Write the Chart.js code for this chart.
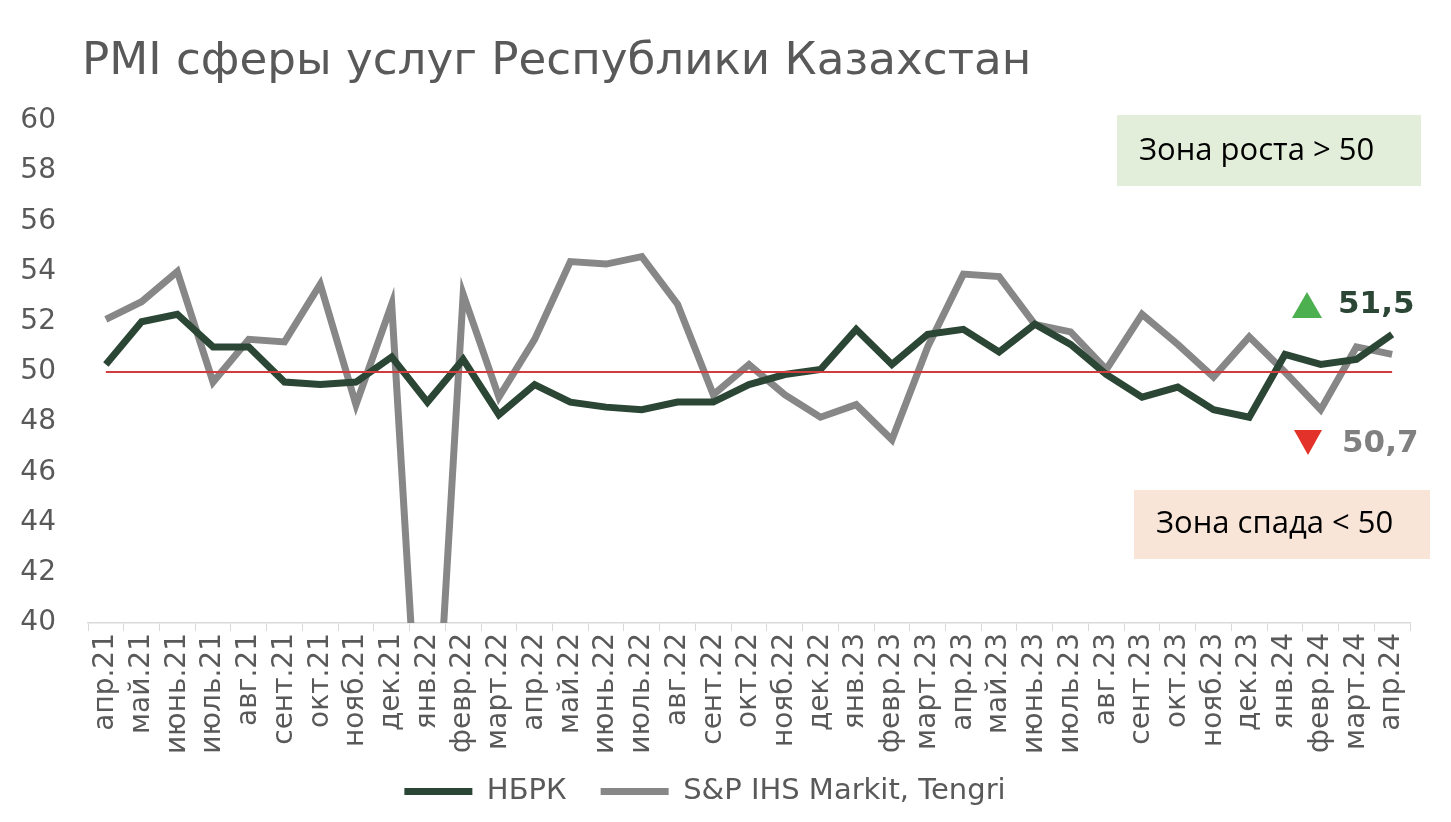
<!DOCTYPE html>
<html>
<head>
<meta charset="utf-8">
<script src="https://cdn.jsdelivr.net/npm/chart.js@4.4.1/dist/chart.umd.min.js"></script>
<style>
  html, body { margin: 0; padding: 0; background: #fff; }
  #wrap { width: 1451px; height: 822px; }
</style>
</head>
<body>
<div id="wrap"><canvas id="pmiChart"></canvas></div>
<script>
const months = [
  'апр.21','май.21','июнь.21','июль.21','авг.21','сент.21','окт.21','нояб.21','дек.21',
  'янв.22','февр.22','март.22','апр.22','май.22','июнь.22','июль.22','авг.22','сент.22','окт.22','нояб.22','дек.22',
  'янв.23','февр.23','март.23','апр.23','май.23','июнь.23','июль.23','авг.23','сент.23','окт.23','нояб.23','дек.23',
  'янв.24','февр.24','март.24','апр.24'
];
const nbrk = [
  50.3, 52.0, 52.3, 51.0, 51.0, 49.6, 49.5, 49.6, 50.6,
  48.8, 50.5, 48.3, 49.5, 48.8, 48.6, 48.5, 48.8, 48.8, 49.5, 49.9, 50.1,
  51.7, 50.3, 51.5, 51.7, 50.8, 51.9, 51.1, 49.9, 49.0, 49.4, 48.5, 48.2,
  50.7, 50.3, 50.5, 51.5
];
const spTengri = [
  52.1, 52.8, 54.0, 49.6, 51.3, 51.2, 53.5, 48.7, 52.7,
  29.0, 53.1, 49.0, 51.3, 54.4, 54.3, 54.6, 52.7, 49.1, 50.3, 49.1, 48.2,
  48.7, 47.3, 51.0, 53.9, 53.8, 51.9, 51.6, 50.1, 52.3, 51.1, 49.8, 51.4,
  50.0, 48.5, 51.0, 50.7
];
const yTicks = [40, 42, 44, 46, 48, 50, 52, 54, 56, 58, 60];
const threshold = 50;

const textColor = '#595959';
const greenLine = '#2b4634';
const grayLine = '#878787';
const mainFont = '"DejaVu Sans"';

// legend: fixed height, pulled up a bit under the rotated month labels
const legendPlace = {
  id: 'legendPlace',
  beforeLayout(chart) {
    const lg = chart.legend;
    if (lg && !lg._patched) {
      const fit = lg.fit;
      lg.fit = function () { fit.call(this); this.height = 62; };
      lg._patched = true;
    }
  },
  afterLayout(chart) {
    chart.legend.top -= 17;
    chart.legend.bottom -= 17;
  }
};

// title, 50-line and zone labels
const extras = {
  id: 'extras',
  afterDatasetsDraw(chart) {
    const { ctx, scales: { x, y } } = chart;
    const yy = y.getPixelForValue(threshold);
    ctx.save();
    ctx.strokeStyle = '#d13c3c';
    ctx.lineWidth = 2;
    ctx.beginPath();
    ctx.moveTo(x.getPixelForValue(0), yy);
    ctx.lineTo(x.getPixelForValue(months.length - 1), yy);
    ctx.stroke();
    ctx.restore();
  },
  afterDraw(chart) {
    const { ctx } = chart;
    const title = 'PMI сферы услуг Республики Казахстан';
    ctx.save();
    ctx.fillStyle = textColor;
    ctx.textBaseline = 'middle';
    ctx.font = '42px ' + mainFont;
    const w = ctx.measureText(title).width;
    const size = 42 * 950 / w;
    ctx.font = size.toFixed(1) + 'px ' + mainFont;
    ctx.fillText(title, 82, 62);

    // zone boxes
    ctx.fillStyle = '#e3eeda';
    ctx.fillRect(1117, 115, 304, 71);
    ctx.fillStyle = '#f8e5d8';
    ctx.fillRect(1134, 490, 296, 69);
    ctx.fillStyle = '#000';
    ctx.font = '31px "Open Sans"';
    ctx.fillText('Зона роста > 50', 1139, 151);
    ctx.fillText('Зона спада < 50', 1156, 524);

    // last values
    ctx.fillStyle = '#4caf50';
    ctx.beginPath();
    ctx.moveTo(1307, 292); ctx.lineTo(1322, 318); ctx.lineTo(1292, 318);
    ctx.closePath(); ctx.fill();
    ctx.fillStyle = '#e3322a';
    ctx.beginPath();
    ctx.moveTo(1294, 430); ctx.lineTo(1322, 430); ctx.lineTo(1308, 455);
    ctx.closePath(); ctx.fill();
    ctx.font = 'bold 31px ' + mainFont;
    ctx.fillStyle = '#2b4634';
    ctx.fillText('51,5', 1338, 305);
    ctx.fillStyle = '#808080';
    ctx.fillText('50,7', 1342, 444);
    ctx.restore();
  }
};

const ctx = document.getElementById('pmiChart').getContext('2d');
const pmiChart = new Chart(ctx, {
  type: 'line',
  data: {
    labels: months,
    datasets: [{
      label: 'НБРК',
      data: nbrk,
      borderColor: greenLine,
      backgroundColor: greenLine,
      borderWidth: 7,
      pointRadius: 0,
      tension: 0
    }, {
      label: 'S&P IHS Markit, Tengri',
      data: spTengri,
      borderColor: grayLine,
      backgroundColor: grayLine,
      borderWidth: 7,
      pointRadius: 0,
      tension: 0
    }]
  },
  options: {
    responsive: true,
    maintainAspectRatio: false,
    animation: false,
    layout: { padding: { top: 121, right: 41, left: 0, bottom: 0 } },
    plugins: {
      title: { display: false },
      tooltip: { enabled: false },
      legend: {
        position: 'bottom',
        labels: {
          color: textColor,
          font: { family: mainFont, size: 29 },
          boxWidth: 68,
          boxHeight: 7,
          padding: 34,
          generateLabels(chart) {
            return chart.data.datasets.map((ds, i) => ({
              text: ds.label,
              fillStyle: ds.borderColor,
              strokeStyle: ds.borderColor,
              lineWidth: 0,
              fontColor: textColor,
              datasetIndex: i
            }));
          }
        }
      }
    },
    scales: {
      x: {
        offset: true,
        grid: {
          display: true,
          drawOnChartArea: false,
          offset: true,
          tickLength: 8,
          color: '#d9d9d9'
        },
        border: { color: '#d9d9d9', width: 1.5 },
        ticks: {
          color: textColor,
          font: { family: mainFont, size: 28 },
          minRotation: 90,
          maxRotation: 90,
          autoSkip: false,
          padding: 2
        },
        afterFit(scale) { scale.height = 137; }
      },
      y: {
        min: 40,
        max: 60,
        afterBuildTicks(scale) { scale.ticks = yTicks.map(v => ({ value: v })); },
        grid: { display: false },
        border: { display: false },
        ticks: {
          color: textColor,
          font: { family: mainFont, size: 28 },
          padding: 24
        },
        afterFit(scale) { scale.width = 88; }
      }
    }
  },
  plugins: [legendPlace, extras]
});
</script>
</body>
</html>
